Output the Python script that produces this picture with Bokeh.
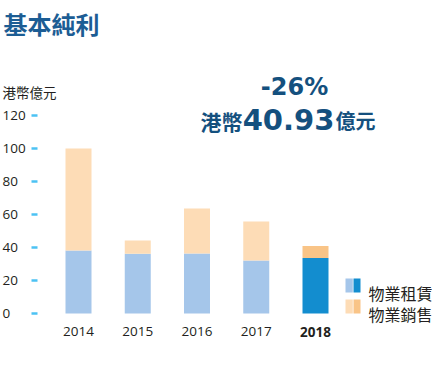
from bokeh.plotting import figure
from bokeh.models import Range1d, Label, ColumnDataSource
from bokeh.core.properties import value
from bokeh.embed import file_html
from bokeh.resources import INLINE

# ---- data ----
years = ["2014", "2015", "2016", "2017", "2018"]
rental = [38.2, 36.2, 36.3, 32.1, 33.7]      # 物業租賃
sales = [61.8, 8.0, 27.3, 23.7, 7.23]         # 物業銷售
y_ticks = [0, 20, 40, 60, 80, 100, 120]
y_tick_labels = ["0", "20", "40", "60", "80", "100", "120"]
title_text = "基本純利"
unit_text = "港幣億元"
change_text = "-26%"
amount_prefix = "港幣"
amount_value = "40.93"
amount_suffix = "億元"
legend_labels = ["物業租賃", "物業銷售"]

# ---- layout constants (page pixels -> data) ----
W, H = 432, 378
PX_PER_X = 59.25
PX_PER_Y = 1.65
X0_CANVAS = 78.0      # canvas x of first bar centre
Y0_CANVAS = 313.0     # canvas y of value 0
x_start = -X0_CANVAS / PX_PER_X
x_end = (W - X0_CANVAS) / PX_PER_X
y_end = Y0_CANVAS / PX_PER_Y
y_start = -(H - Y0_CANVAS) / PX_PER_Y


def px(xp):
    return x_start + xp / PX_PER_X


def py(yp):
    return y_end - yp / PX_PER_Y


CJK = "Noto Sans CJK TC"
LAT = "Open Sans"
DARK = "#231f20"
LIGHT_BLUE = "#a5c6ea"
DARK_BLUE = "#138dcf"
LIGHT_ORANGE = "#fddcb6"
ORANGE = "#f9c487"

p = figure(width=W, height=H, output_backend="svg", toolbar_location=None,
           x_range=Range1d(x_start, x_end), y_range=Range1d(y_start, y_end),
           min_border=0, min_border_left=0, min_border_right=0,
           min_border_top=0, min_border_bottom=0)
p.axis.visible = False
p.grid.visible = False
p.outline_line_color = None
p.background_fill_color = "white"
p.border_fill_color = "white"

n = len(years)
xs = list(range(n))
totals = [r + s for r, s in zip(rental, sales)]
rent_colors = [DARK_BLUE if i == n - 1 else LIGHT_BLUE for i in xs]
sale_colors = [ORANGE if i == n - 1 else LIGHT_ORANGE for i in xs]

src = ColumnDataSource(dict(x=xs, rental=rental, total=totals,
                            rc=rent_colors, sc=sale_colors))
bar_w = 26 / PX_PER_X
p.vbar(x="x", width=bar_w, bottom=0, top="rental", fill_color="rc",
       line_color=None, source=src)
p.vbar(x="x", width=bar_w, bottom="rental", top="total", fill_color="sc",
       line_color=None, source=src)

# y ticks (short dashes) and labels
p.segment(x0=[px(31)] * len(y_ticks), x1=[px(37)] * len(y_ticks),
          y0=y_ticks, y1=y_ticks, line_color="#4cc2f3", line_width=2.5)
p.text(x=[px(2)] * len(y_ticks), y=y_ticks, text=y_tick_labels,
       text_font=value(LAT), text_font_size="13.5px", text_color=DARK,
       text_align="left", text_baseline="middle", y_offset=0)

# x labels
for i, yr in enumerate(years):
    p.add_layout(Label(x=i, y=py(331), text=yr, text_font=LAT,
                       text_font_size="13.5px", text_color=DARK,
                       text_align="center", text_baseline="alphabetic",
                       text_font_style="bold" if i == n - 1 else "normal"))

# titles
p.add_layout(Label(x=px(3), y=py(22.5), text=title_text, text_font=CJK,
                   text_font_size="24px", text_color="#1c5d94",
                   text_font_style="bold", text_baseline="alphabetic"))
p.add_layout(Label(x=px(2), y=py(91), text=unit_text, text_font=CJK,
                   text_font_size="13.5px", text_color=DARK,
                   text_baseline="alphabetic"))

BIG = "#14507e"
p.add_layout(Label(x=px(294), y=py(86.5), text=change_text,
                   text_font="DejaVu Sans", text_font_size="24px",
                   text_font_style="bold", text_color=BIG,
                   text_align="center", text_baseline="alphabetic"))
p.add_layout(Label(x=px(288), y=py(119), text=amount_value,
                   text_font="DejaVu Sans", text_font_size="29px",
                   text_font_style="bold", text_color=BIG,
                   text_align="center", text_baseline="alphabetic"))
p.add_layout(Label(x=px(242), y=py(120), text=amount_prefix, text_font=CJK,
                   text_font_size="21px", text_font_style="bold",
                   text_color=BIG, text_align="right",
                   text_baseline="alphabetic"))
p.add_layout(Label(x=px(335), y=py(120), text=amount_suffix, text_font=CJK,
                   text_font_size="20px", text_font_style="bold",
                   text_color=BIG, text_align="left",
                   text_baseline="alphabetic"))

# legend swatches (split squares) and texts
sw_top = [278, 299]
sw_colors = [(LIGHT_BLUE, DARK_BLUE), (LIGHT_ORANGE, ORANGE)]
for k, lab in enumerate(legend_labels):
    t = sw_top[k]
    p.quad(left=[px(345)], right=[px(352.3)], top=[py(t)], bottom=[py(t + 14)],
           fill_color=sw_colors[k][0], line_color=None)
    p.quad(left=[px(353)], right=[px(360)], top=[py(t)], bottom=[py(t + 14)],
           fill_color=sw_colors[k][1], line_color=None)
    p.add_layout(Label(x=px(368), y=py(t + 14), text=lab, text_font=CJK,
                       text_font_size="16px", text_color=DARK,
                       text_baseline="alphabetic"))

open("out.html", "w").write(file_html(p, INLINE))
